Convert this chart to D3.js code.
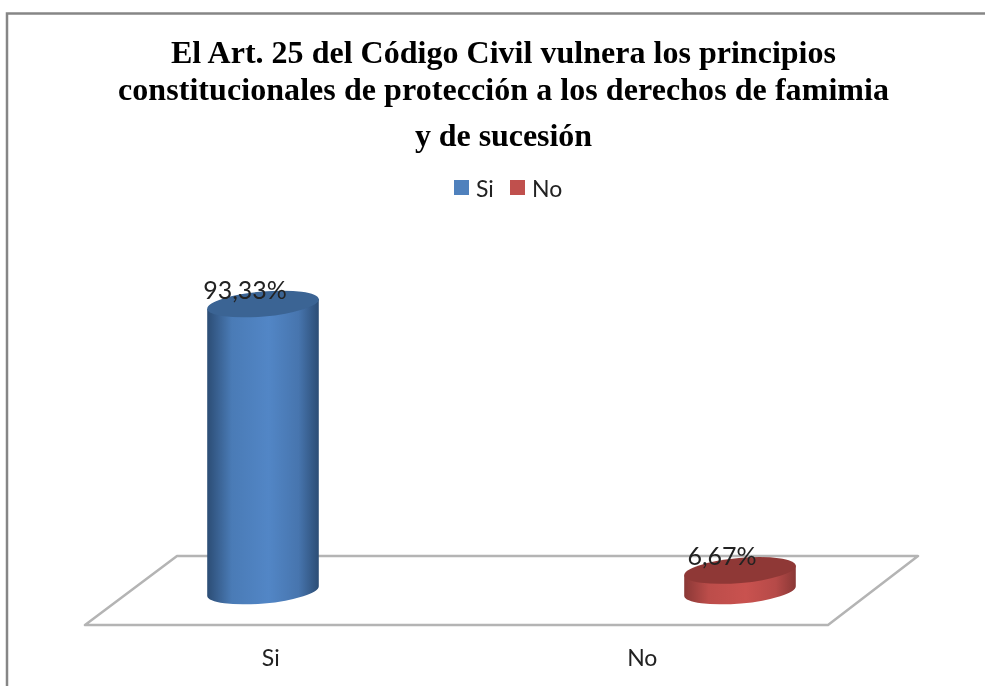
<!DOCTYPE html>
<html>
<head>
<meta charset="utf-8">
<script src="https://d3js.org/d3.v7.min.js"></script>
<style>
  html, body { margin: 0; padding: 0; background: #fff; }
  svg { display: block; filter: blur(0.5px); }
</style>
</head>
<body>
<div id="chart"></div>
<script>
var categories = ["Si", "No"];
var values = [93.33, 6.67];
var valueLabels = ["93,33%", "6,67%"];
var titleLines = [
    "El Art. 25 del Código Civil vulnera los principios",
    "constitucionales de protección a los derechos de famimia",
    "y de sucesión"
];
var baseColors = ["#5286c6", "#c9524f"];
var edgeColors = ["#2c4d75", "#8a3836"];
var topColors = ["#3b6494", "#8f3836"];
var legendColors = ["#4f81bd", "#c0504d"];

var svgWidth = 985;
var svgHeight = 686;

var svg = d3.select("#chart")
    .append("svg")
    .attr("width", svgWidth)
    .attr("height", svgHeight);

// outer frame, cut off by the right and bottom of the picture
svg.append("path")
    .attr("d", "M7,686V13.5H985")
    .attr("fill", "none")
    .attr("stroke", "#868686")
    .attr("stroke-width", 2.5);

// title
svg.append("g")
    .selectAll("text")
    .data(titleLines)
    .enter()
    .append("text")
    .attr("x", 503.5)
    .attr("y", (d, i) => [63, 100, 146][i])
    .attr("text-anchor", "middle")
    .attr("font-family", "Liberation Serif")
    .attr("font-weight", "bold")
    .attr("font-size", "32px")
    .attr("textLength", (d, i) => [665, 771, 177][i])
    .attr("fill", "#000")
    .text(d => d);

// legend
var legendX = [454, 510];
var legend = svg.append("g")
    .selectAll("g")
    .data(categories)
    .enter()
    .append("g")
    .attr("transform", (d, i) => `translate(${legendX[i]}, 180)`);

legend.append("rect")
    .attr("width", 15)
    .attr("height", 15)
    .attr("fill", (d, i) => legendColors[i]);

legend.append("text")
    .attr("x", 22)
    .attr("y", 17)
    .attr("font-family", "Lato")
    .attr("font-size", "23px")
    .attr("fill", "#222")
    .text(d => d);

// floor of the 3d plot
svg.append("path")
    .attr("d", "M85,625H828L918,556H177Z")
    .attr("fill", "#fff")
    .attr("stroke", "#b4b4b4")
    .attr("stroke-width", 2.5)
    .attr("stroke-linejoin", "round");

// scales: labels sit on the front edge, the cylinders stand further back
var xAxisScale = d3.scaleBand().domain(categories).range([85, 828]);
var xScale = d3.scalePoint().domain(categories).range([263, 740]);
var yScale = d3.scaleLinear().domain([0, 93.33]).range([591, 304]);

var bottomAxis = d3.axisBottom(xAxisScale).tickSize(0);
var axisGroup = svg.append("g")
    .attr("transform", "translate(0, 647)")
    .call(bottomAxis);
axisGroup.select(".domain").remove();
axisGroup.selectAll("text")
    .attr("font-family", "Lato")
    .attr("font-size", "23px")
    .attr("fill", "#222");

// gradients for the round sides
var defs = svg.append("defs");
categories.forEach(function(c, i) {
    var grad = defs.append("linearGradient")
        .attr("id", "side" + i);
    grad.append("stop").attr("offset", "0%").attr("stop-color", edgeColors[i]);
    grad.append("stop").attr("offset", "22%").attr("stop-color", d3.interpolateRgb(edgeColors[i], baseColors[i])(0.8));
    grad.append("stop").attr("offset", "55%").attr("stop-color", baseColors[i]);
    grad.append("stop").attr("offset", "82%").attr("stop-color", d3.interpolateRgb(edgeColors[i], baseColors[i])(0.7));
    grad.append("stop").attr("offset", "100%").attr("stop-color", edgeColors[i]);
});

var rx = 56;
var ry = 12.5;
var tilt = -5;
var dx = rx * Math.cos(tilt * Math.PI / 180);
var dy = rx * Math.sin(tilt * Math.PI / 180);

var cylinders = svg.append("g")
    .selectAll("g")
    .data(categories)
    .enter()
    .append("g");

cylinders.append("path")
    .attr("fill", (d, i) => `url(#side${i})`)
    .attr("d", function(d, i) {
        var cx = xScale(d);
        var yTop = yScale(values[i]);
        var yBase = yScale(0);
        return `M${cx - dx},${yTop - dy}L${cx + dx},${yTop + dy}` +
            `L${cx + dx},${yBase + dy}` +
            `A${rx},${ry} ${tilt} 0 1 ${cx - dx},${yBase - dy}Z`;
    });

cylinders.append("ellipse")
    .attr("rx", rx)
    .attr("ry", ry)
    .attr("fill", (d, i) => topColors[i])
    .attr("transform", (d, i) => `translate(${xScale(d)}, ${yScale(values[i])}) rotate(${tilt})`);

// value labels
svg.append("g")
    .selectAll("text")
    .data(categories)
    .enter()
    .append("text")
    .attr("x", d => xScale(d) - 18)
    .attr("y", (d, i) => yScale(values[i]) - 5)
    .attr("text-anchor", "middle")
    .attr("font-family", "Lato")
    .attr("font-size", "25px")
    .attr("fill", "#222")
    .text((d, i) => valueLabels[i]);
</script>
</body>
</html>
